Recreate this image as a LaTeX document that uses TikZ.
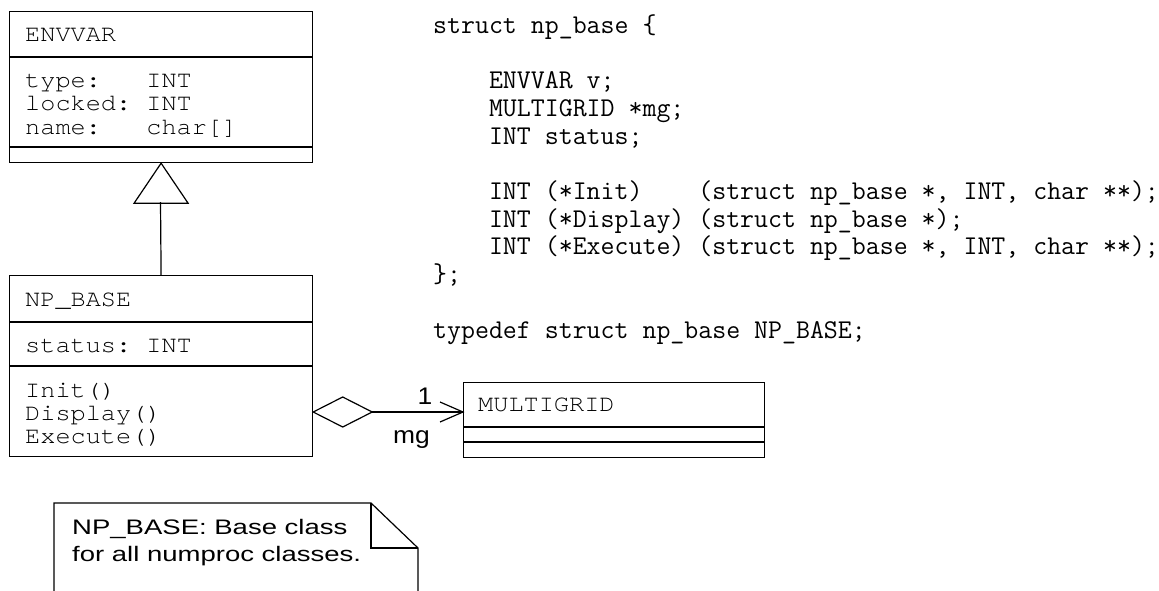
\documentclass[tikz,border=0pt]{standalone}
\usepackage{fontspec}
\newfontfamily\umlfont{TeX Gyre Cursor}[FakeStretch=1.07]
\newfontfamily\notefont{Liberation Sans}[FakeStretch=1.31]
\newfontfamily\endfont{Liberation Sans}[FakeStretch=1.1]
\begin{document}
\begin{tikzpicture}[x=1pt,y=-1pt,
  box/.style={draw, line width=1.2pt, rectangle, inner sep=0pt, anchor=north west},
  rule/.style={line width=1.2pt},
  umltext/.style={anchor=base west, inner sep=0pt, text=black,
    font=\umlfont\fontsize{23.6}{24}\selectfont},
  codeline/.style={anchor=base west, inner sep=0pt,
    font=\ttfamily\fontsize{27.1}{27.7}\selectfont},
  sanstext/.style={anchor=base west, inner sep=0pt,
    font=\notefont\fontsize{21}{24}\selectfont},
  endtext/.style={anchor=base, inner sep=0pt,
    font=\endfont\fontsize{24}{26}\selectfont}]
\useasboundingbox (0,0) rectangle (1159,590);

% ---- class ENVVAR ----
\node[box, minimum width=303pt, minimum height=151pt] (envvar) at (9,11) {};
\draw[rule] (envvar.west |- 0,57) -- (envvar.east |- 0,57);
\draw[rule] (envvar.west |- 0,147) -- (envvar.east |- 0,147);
\node[umltext] (envname) at (25,41.5) {ENVVAR};
\node[umltext] (envattr1) at (25,87) {type:\phantom{xxx}INT};
\node[umltext] (envattr2) at (25,110) {locked:\phantom{x}INT};
\node[umltext] (envattr3) at (25,134) {name:\phantom{xxx}char[]};

% ---- class NP_BASE ----
\node[box, minimum width=303pt, minimum height=181pt] (npbase) at (9,275) {};
\draw[rule] (npbase.west |- 0,322) -- (npbase.east |- 0,322);
\draw[rule] (npbase.west |- 0,366) -- (npbase.east |- 0,366);
\node[umltext] (npname) at (25,306) {NP\_BASE};
\node[umltext] (npattr) at (25,352) {status:\phantom{x}INT};
\node[umltext] (npop1) at (25,397) {Init()};
\node[umltext] (npop2) at (25,420) {Display()};
\node[umltext] (npop3) at (25,443) {Execute()};

% ---- class MULTIGRID ----
\node[box, minimum width=301pt, minimum height=75pt] (mgrid) at (463,382) {};
\draw[rule] (mgrid.west |- 0,427) -- (mgrid.east |- 0,427);
\draw[rule] (mgrid.west |- 0,442) -- (mgrid.east |- 0,442);
\node[umltext] (mgname) at (478,411.5) {MULTIGRID};

% ---- generalization NP_BASE -> ENVVAR ----
\coordinate (tribase) at (160.5,202);
\draw[rule] (npbase.north) -- (tribase);
\draw[rule, line join=miter] (envvar.south) -- ++(-27,40) -- ++(54,0) -- cycle;

% ---- aggregation NP_BASE <>-> MULTIGRID ----
\coordinate (aggstart) at (npbase.east |- 0,412);
\coordinate (aggend) at (mgrid.west |- 0,412);
\draw[rule, line join=miter] (aggstart) -- ++(29.5,-15) -- ++(29.5,15) coordinate (dright)
  -- ++(-29.5,15) -- cycle;
\draw[rule] (dright) -- (aggend);
\draw[rule, line join=miter] (aggend) ++(-23,-10) -- (aggend) -- ++(-23,10);
\node[endtext] (mult) at (425,404) {1};
\node[endtext] (role) at (411.5,443) {mg};

% ---- note ----
\draw[rule, line join=miter] (54,600) -- (54,503) -- (371,503) -- (418,548) -- (418,600);
\draw[rule, line join=miter] (371,503) -- (371,548) -- (418,548);
\node[sanstext] (note1) at (72,534) {NP\_BASE: Base class};
\node[sanstext] (note2) at (72,561) {for all numproc classes.};

% ---- C declaration ----
\node[codeline] (c1) at (433,33.3) {struct np\_base \{};
\node[codeline] (c2) at (433,88.7) {\phantom{xxxx}ENVVAR v;};
\node[codeline] (c3) at (433,116.4) {\phantom{xxxx}MULTIGRID *mg;};
\node[codeline] (c4) at (433,144.1) {\phantom{xxxx}INT status;};
\node[codeline] (c5) at (433,199.5) {\phantom{xxxx}INT (*Init)\phantom{xxxx}(struct np\_base *, INT, char **);};
\node[codeline] (c6) at (433,227.2) {\phantom{xxxx}INT (*Display) (struct np\_base *);};
\node[codeline] (c7) at (433,254.9) {\phantom{xxxx}INT (*Execute) (struct np\_base *, INT, char **);};
\node[codeline] (c8) at (433,282.6) {\};};
\node[codeline] (c9) at (433,338) {typedef struct np\_base NP\_BASE;};
\end{tikzpicture}
\end{document}
